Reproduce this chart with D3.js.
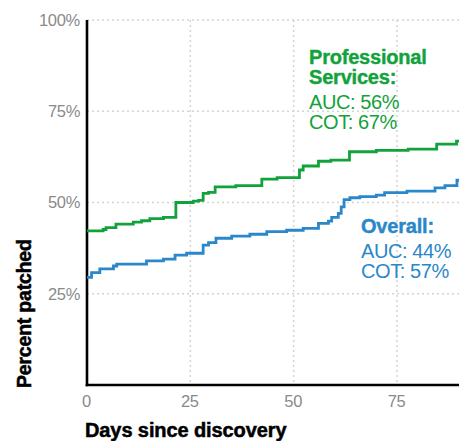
<!DOCTYPE html>
<html>
<head>
<meta charset="utf-8">
<script src="https://cdn.jsdelivr.net/npm/d3@7"></script>
<style>
  html, body { margin: 0; padding: 0; background: #fff; }
  svg { display: block; font-family: "Liberation Sans", Arial, sans-serif; }
</style>
</head>
<body>
<svg id="chart" width="468" height="441"></svg>
<script>
// Share of vulnerabilities patched, by days since discovery (step curves)
const xTicks = [0, 25, 50, 75];
const yTicks = [25, 50, 75, 100];

const proDays = [0, 3.9, 4.6, 7, 11.2, 13.2, 15.2, 18.5, 21.5, 25.7, 27, 28.1, 29.4, 31, 36, 42.3, 46, 51.4, 52.3, 56, 59, 63.5, 70, 77.7, 84.6, 89.4, 90];
const proPct  = [42.2, 42.6, 43.1, 44.1, 44.6, 45.0, 45.6, 45.9, 50.0, 50.4, 50.6, 52.5, 52.8, 54.3, 54.6, 56.4, 56.8, 58.9, 60.0, 61.3, 61.6, 63.9, 64.3, 64.6, 66.0, 66.8, 66.8];

const allDays = [0, 1.1, 3.1, 6.4, 7.2, 14.4, 18.5, 21.3, 24.1, 28.1, 29.4, 31.2, 35, 39.4, 43.5, 48.3, 52.3, 56, 58.4, 59.2, 60.8, 61.5, 62.2, 63.6, 66, 70, 72, 77.4, 84.2, 86.6, 89.5, 90];
const allPct  = [29.5, 30.8, 31.8, 32.6, 33.1, 34.0, 34.5, 35.6, 36.1, 38.3, 39.0, 40.2, 40.8, 41.3, 42.0, 42.4, 42.9, 44.3, 44.9, 45.9, 47.0, 48.8, 50.8, 51.3, 51.6, 52.0, 52.7, 53.1, 54.0, 54.6, 56.1, 56.1];

const proLabel = ["Professional", "Services:"];
const proStats = ["AUC: 56%", "COT: 67%"];
const allLabel = ["Overall:"];
const allStats = ["AUC: 44%", "COT: 57%"];

const GREEN = "#12a23c";
const BLUE = "#2a87c9";

const svg = d3.select("#chart");
const x = d3.scaleLinear().domain([0, 90]).range([87, 459]);
const y = d3.scaleLinear().domain([0, 100]).range([385, 20]);

// dotted grid
const grid = svg.append("g")
  .attr("stroke", "#d4d4d4").attr("stroke-width", 1.5).attr("stroke-dasharray", "2,3");
grid.selectAll("line.h").data(yTicks).join("line")
  .attr("x1", x(0)).attr("x2", x(90))
  .attr("y1", d => y(d)).attr("y2", d => y(d));
grid.selectAll("line.v").data(xTicks.filter(d => d > 0)).join("line")
  .attr("x1", d => x(d)).attr("x2", d => x(d))
  .attr("y1", y(100)).attr("y2", y(0));

// axes
const yAxis = svg.append("g").attr("transform", `translate(${x(0)},0)`)
  .call(d3.axisLeft(y).tickValues(yTicks).tickSize(0).tickPadding(7).tickFormat(d => d + "%"));
const xAxis = svg.append("g").attr("transform", `translate(0,${y(0)})`)
  .call(d3.axisBottom(x).tickValues(xTicks).tickSize(0).tickPadding(10));
[yAxis, xAxis].forEach(g => {
  g.select(".domain").remove();
  g.selectAll("text").attr("fill", "#8a8a8a").attr("font-size", 16.5)
    .attr("letter-spacing", -0.3)
    .attr("font-family", "'Liberation Sans', Arial, sans-serif");
});
xAxis.selectAll("text").attr("dx", -1);

svg.append("line").attr("x1", x(0)).attr("x2", x(0)).attr("y1", y(100)).attr("y2", y(0) + 1.3)
  .attr("stroke", "#000").attr("stroke-width", 2.6);
svg.append("line").attr("x1", x(0) - 1.3).attr("x2", x(90)).attr("y1", y(0)).attr("y2", y(0))
  .attr("stroke", "#000").attr("stroke-width", 2.6);

// series
const line = d3.line().x(d => x(d[0])).y(d => y(d[1])).curve(d3.curveStepAfter);
svg.append("path").datum(d3.zip(allDays, allPct))
  .attr("d", line).attr("fill", "none").attr("stroke", BLUE).attr("stroke-width", 2.8);
svg.append("path").datum(d3.zip(proDays, proPct))
  .attr("d", line).attr("fill", "none").attr("stroke", GREEN).attr("stroke-width", 2.8);

// annotations
function block(x0, y0, bold, plain, color) {
  const g = svg.append("g").attr("fill", color).attr("font-size", 20);
  bold.forEach((t, i) => g.append("text").attr("x", x0).attr("y", y0 + i * 20)
    .attr("font-weight", "bold").attr("letter-spacing", -0.2)
    .attr("stroke", color).attr("stroke-width", 0.4).text(t));
  const y1 = y0 + (bold.length - 1) * 20 + 25;
  plain.forEach((t, i) => g.append("text").attr("x", x0).attr("y", y1 + i * 20)
    .attr("letter-spacing", -0.4).text(t));
}
block(309, 64, proLabel, proStats, GREEN);
block(361, 233, allLabel, allStats, BLUE);

// axis titles
svg.append("text").attr("x", 85).attr("y", 437)
  .attr("font-size", 20).attr("font-weight", "bold").attr("fill", "#000")
  .attr("stroke", "#000").attr("stroke-width", 0.5)
  .attr("letter-spacing", -0.1).text("Days since discovery");
svg.append("text").attr("transform", "translate(31,388) rotate(-90)")
  .attr("font-size", 19.5).attr("font-weight", "bold").attr("fill", "#000")
  .attr("stroke", "#000").attr("stroke-width", 0.5)
  .attr("letter-spacing", -0.2).text("Percent patched");
</script>
</body>
</html>
